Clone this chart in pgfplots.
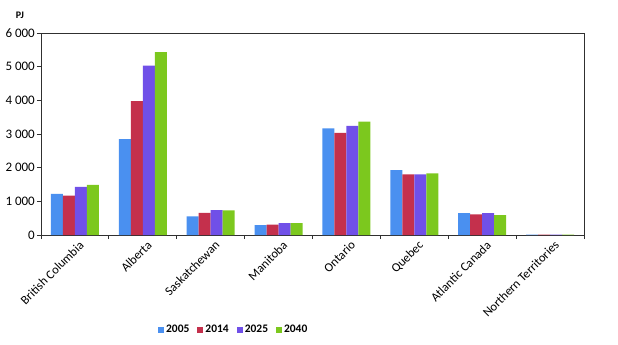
\documentclass[border=0pt]{standalone}
\usepackage{pgfplots}
\pgfplotsset{compat=1.18}
\usepackage{fontspec}
\setmainfont{Carlito}
\definecolor{cA}{HTML}{4A90F0}
\definecolor{cB}{HTML}{C4304C}
\definecolor{cC}{HTML}{7050E8}
\definecolor{cD}{HTML}{7CC81E}
\definecolor{frame}{HTML}{303030}
\begin{document}
\begin{tikzpicture}[x=1pt,y=1pt]
\path[use as bounding box] (-41,-110) rectangle (577,235);
\begin{axis}[
    at={(0,0)}, anchor=south west,
    scale only axis,
    width=543pt, height=202pt,
    ybar=0pt, bar width=12pt,
    xmin=-0.5, xmax=7.5,
    ymin=0, ymax=6000,
    ytick={0,1000,...,6000},
    xtick={0,...,7},
    xticklabels={British Columbia,Alberta,Saskatchewan,Manitoba,Ontario,Quebec,Atlantic Canada,Northern Territories},
    minor xtick={-0.5,0.5,...,7.5},
    major x tick style={draw=none},
    minor x tick style={frame, line width=0.8pt},
    minor tick length=4pt,
    y tick style={frame, line width=0.8pt},
    major tick length=4pt,
    tick align=outside,
    xtick pos=bottom, ytick pos=left,
    axis line style={frame, line width=0.8pt},
    x tick label style={rotate=45, anchor=north east, font=\fontsize{12.5}{14}\selectfont, inner sep=1pt, xshift=3pt, yshift=-2pt},
    y tick label style={font=\fontsize{13}{15}\selectfont, inner sep=2pt},
    /pgf/number format/.cd, 1000 sep={\ }, assume math mode=true, /pgfplots/.cd,
    legend style={at={(axis description cs:0.355,-0.47)}, anchor=center, draw=none,
        legend columns=4, font=\bfseries\fontsize{11.5}{13}\selectfont,
        /tikz/every even column/.append style={column sep=6pt}},
    legend image code/.code={\fill[#1] (0pt,-3pt) rectangle (6pt,3pt);},
]
\addplot[fill=cA, draw=none] coordinates {(0,1220) (1,2850) (2,550) (3,290) (4,3170) (5,1930) (6,650) (7,10)};
\addplot[fill=cB, draw=none] coordinates {(0,1170) (1,3980) (2,660) (3,310) (4,3030) (5,1800) (6,610) (7,10)};
\addplot[fill=cC, draw=none] coordinates {(0,1430) (1,5030) (2,740) (3,350) (4,3240) (5,1800) (6,650) (7,10)};
\addplot[fill=cD, draw=none] coordinates {(0,1490) (1,5430) (2,730) (3,350) (4,3370) (5,1830) (6,590) (7,10)};
\legend{2005,2014,2025,2040}
\end{axis}
\node[font=\bfseries\fontsize{10}{12}\selectfont] at (-21,220) {PJ};
\end{tikzpicture}
\end{document}
